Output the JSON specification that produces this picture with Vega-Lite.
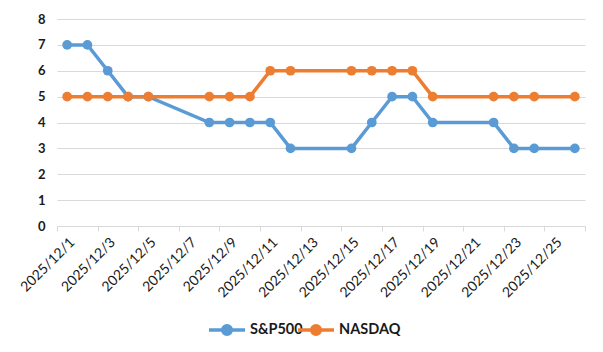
{
  "$schema": "https://vega.github.io/schema/vega-lite/v6.json",
  "autosize": "none",
  "width": 528,
  "height": 207,
  "padding": {"left": 57, "top": 19, "right": 18, "bottom": 126},
  "background": "white",
  "config": {
    "view": {"stroke": null},
    "font": "Lato",
    "axis": {"labelFont": "Lato", "labelColor": "#1a1a1a"},
    "legend": {"labelFont": "Lato"}
  },
  "data": {
    "values": [
      {"date": "2025-12-01", "series": "S&P500", "value": 7},
      {"date": "2025-12-02", "series": "S&P500", "value": 7},
      {"date": "2025-12-03", "series": "S&P500", "value": 6},
      {"date": "2025-12-04", "series": "S&P500", "value": 5},
      {"date": "2025-12-05", "series": "S&P500", "value": 5},
      {"date": "2025-12-08", "series": "S&P500", "value": 4},
      {"date": "2025-12-09", "series": "S&P500", "value": 4},
      {"date": "2025-12-10", "series": "S&P500", "value": 4},
      {"date": "2025-12-11", "series": "S&P500", "value": 4},
      {"date": "2025-12-12", "series": "S&P500", "value": 3},
      {"date": "2025-12-15", "series": "S&P500", "value": 3},
      {"date": "2025-12-16", "series": "S&P500", "value": 4},
      {"date": "2025-12-17", "series": "S&P500", "value": 5},
      {"date": "2025-12-18", "series": "S&P500", "value": 5},
      {"date": "2025-12-19", "series": "S&P500", "value": 4},
      {"date": "2025-12-22", "series": "S&P500", "value": 4},
      {"date": "2025-12-23", "series": "S&P500", "value": 3},
      {"date": "2025-12-24", "series": "S&P500", "value": 3},
      {"date": "2025-12-26", "series": "S&P500", "value": 3},
      {"date": "2025-12-01", "series": "NASDAQ", "value": 5},
      {"date": "2025-12-02", "series": "NASDAQ", "value": 5},
      {"date": "2025-12-03", "series": "NASDAQ", "value": 5},
      {"date": "2025-12-04", "series": "NASDAQ", "value": 5},
      {"date": "2025-12-05", "series": "NASDAQ", "value": 5},
      {"date": "2025-12-08", "series": "NASDAQ", "value": 5},
      {"date": "2025-12-09", "series": "NASDAQ", "value": 5},
      {"date": "2025-12-10", "series": "NASDAQ", "value": 5},
      {"date": "2025-12-11", "series": "NASDAQ", "value": 6},
      {"date": "2025-12-12", "series": "NASDAQ", "value": 6},
      {"date": "2025-12-15", "series": "NASDAQ", "value": 6},
      {"date": "2025-12-16", "series": "NASDAQ", "value": 6},
      {"date": "2025-12-17", "series": "NASDAQ", "value": 6},
      {"date": "2025-12-18", "series": "NASDAQ", "value": 6},
      {"date": "2025-12-19", "series": "NASDAQ", "value": 5},
      {"date": "2025-12-22", "series": "NASDAQ", "value": 5},
      {"date": "2025-12-23", "series": "NASDAQ", "value": 5},
      {"date": "2025-12-24", "series": "NASDAQ", "value": 5},
      {"date": "2025-12-26", "series": "NASDAQ", "value": 5}
    ]
  },
  "mark": {
    "type": "line",
    "strokeWidth": 3.5,
    "point": {"filled": true, "size": 95, "opacity": 1}
  },
  "encoding": {
    "x": {
      "field": "date",
      "type": "temporal",
      "title": null,
      "scale": {
        "type": "utc",
        "domain": [
          {"year": 2025, "month": 11, "date": 30, "hours": 12, "utc": true},
          {"year": 2025, "month": 12, "date": 26, "hours": 12, "utc": true}
        ]
      },
      "axis": {
        "values": [
          {"year": 2025, "month": 11, "date": 30, "hours": 12, "utc": true},
          {"year": 2025, "month": 12, "date": 2, "hours": 12, "utc": true},
          {"year": 2025, "month": 12, "date": 4, "hours": 12, "utc": true},
          {"year": 2025, "month": 12, "date": 6, "hours": 12, "utc": true},
          {"year": 2025, "month": 12, "date": 8, "hours": 12, "utc": true},
          {"year": 2025, "month": 12, "date": 10, "hours": 12, "utc": true},
          {"year": 2025, "month": 12, "date": 12, "hours": 12, "utc": true},
          {"year": 2025, "month": 12, "date": 14, "hours": 12, "utc": true},
          {"year": 2025, "month": 12, "date": 16, "hours": 12, "utc": true},
          {"year": 2025, "month": 12, "date": 18, "hours": 12, "utc": true},
          {"year": 2025, "month": 12, "date": 20, "hours": 12, "utc": true},
          {"year": 2025, "month": 12, "date": 22, "hours": 12, "utc": true},
          {"year": 2025, "month": 12, "date": 24, "hours": 12, "utc": true},
          {"year": 2025, "month": 12, "date": 26, "hours": 12, "utc": true}
        ],
        "labelExpr": "datum.value > 1766620800000 ? '' : utcFormat(datum.value + 43200000, '%Y/%-m/%-d')",
        "labelOffset": 10.15,
        "labelAngle": -45,
        "labelFontSize": 14,
        "labelPadding": 4,
        "labelBound": false,
        "labelOverlap": false,
        "labelFlush": false,
        "domainColor": "#d9d9d9",
        "domainWidth": 1,
        "tickColor": "#d9d9d9",
        "tickSize": 5,
        "grid": false
      }
    },
    "y": {
      "field": "value",
      "type": "quantitative",
      "title": null,
      "scale": {"domain": [0, 8], "nice": false, "zero": true},
      "axis": {
        "values": [0, 1, 2, 3, 4, 5, 6, 7, 8],
        "domain": false,
        "ticks": false,
        "grid": true,
        "gridColor": "#d9d9d9",
        "gridWidth": 1,
        "labelFontSize": 13,
        "labelFontWeight": "bold",
        "labelPadding": 12
      }
    },
    "color": {
      "field": "series",
      "type": "nominal",
      "sort": ["S&P500", "NASDAQ"],
      "scale": {"domain": ["S&P500", "NASDAQ"], "range": ["#5B9BD5", "#ED7D31"]},
      "legend": {
        "title": null,
        "orient": "none",
        "direction": "horizontal",
        "legendX": 150,
        "legendY": 291,
        "padding": 0,
        "gridAlign": "none",
        "symbolType": "M-1,0L1,0M-0.24,0A0.24,0.24,0,1,1,0.24,0A0.24,0.24,0,1,1,-0.24,0Z",
        "symbolSize": 1296,
        "symbolStrokeWidth": 3.5,
        "labelFontSize": 14.5,
        "labelFontWeight": "bold",
        "labelColor": "#1a1a1a",
        "labelOffset": 3,
        "columnPadding": -12,
        "encode": {
          "symbols": {
            "update": {
              "fill": {"scale": "color", "field": "value"},
              "stroke": {"scale": "color", "field": "value"},
              "opacity": {"value": 1}
            }
          }
        }
      }
    }
  }
}
